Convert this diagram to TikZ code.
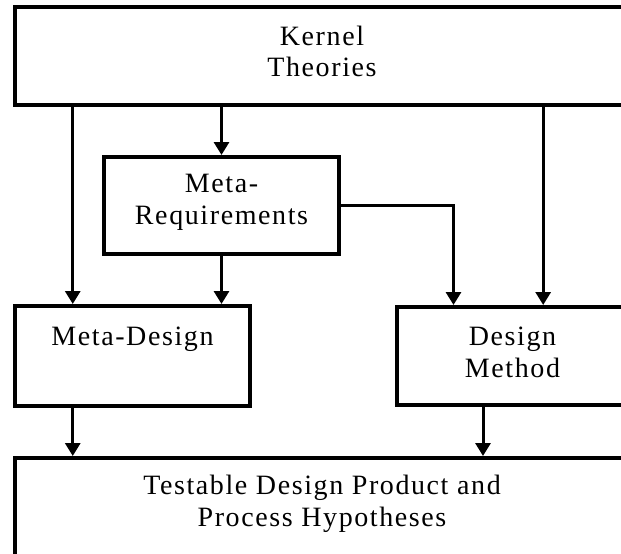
\documentclass[tikz,border=0pt]{standalone}
\usepackage{fontspec}
\setmainfont{Liberation Serif}[LetterSpace=5.7]
\usetikzlibrary{arrows.meta,calc}
% two centred lines whose baseline is the first line
\newcommand\twolines[2]{\begin{tabular}[t]{@{}c@{}}#1\\#2\end{tabular}}
\begin{document}
\begin{tikzpicture}[x=1pt,y=-1pt,
  box/.style={draw, line width=4pt, inner xsep=0pt, inner ysep=0pt,
    font=\fontsize{28}{32}\selectfont},
  flow/.style={line width=3pt, -{Triangle[width=15pt,length=13pt]}}]
  \useasboundingbox (0,0) rectangle (621,554);
  \fill[white] (0,0) rectangle (621,554);
  \clip (0,0) rectangle (621,554);

  % boxes
  \node[box, minimum width=614pt, text height=38pt, text depth=60pt]
    (kt) at (322,56) {\twolines{Kernel}{Theories}};
  \node[box, minimum width=235pt, text height=35pt, text depth=62pt]
    (mr) at (221.5,205.5) {\twolines{Meta-}{Requirements}};
  \node[box, minimum width=235pt, text height=39pt, text depth=61pt]
    (md) at (132.5,356) {Meta-Design};
  \node[box, minimum width=232pt, text height=38pt, text depth=60pt]
    (dm) at (512.5,356) {\twolines{Design}{Method}};
  \node[box, minimum width=614pt, text height=36pt, text depth=86pt]
    (bt) at (322,519) {\twolines{Testable Design Product and}{Process Hypotheses}};

  % connection points on box edges
  \coordinate (p1) at ($(md.north west)!0.25!(md.north east)$);
  \coordinate (p2) at ($(dm.north west)!0.63!(dm.north east)$);
  \coordinate (p3) at ($(dm.north west)!0.25!(dm.north east)$);
  \coordinate (p4) at ($(md.south west)!0.25!(md.south east)$);
  \coordinate (p5) at ($(dm.south west)!0.375!(dm.south east)$);

  % arrows
  \draw[flow] (kt.south -| p1) -- (p1);
  \draw[flow] (kt.south -| mr.north) -- (mr.north);
  \draw[flow] (kt.south -| p2) -- (p2);
  \draw[flow] (mr.south) -- (mr.south |- md.north);
  \draw[flow] (mr.east) -| (p3);
  \draw[flow] (p4) -- (p4 |- bt.north);
  \draw[flow] (p5) -- (p5 |- bt.north);
\end{tikzpicture}
\end{document}
